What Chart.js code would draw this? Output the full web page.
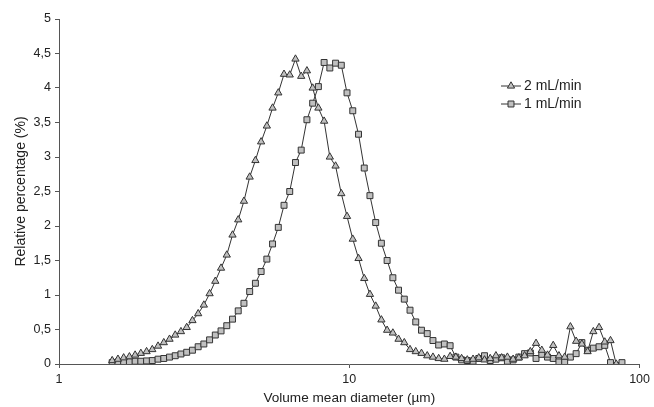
<!DOCTYPE html>
<html>
<head>
<meta charset="utf-8">
<script src="https://cdn.jsdelivr.net/npm/chart.js@4.4.1/dist/chart.umd.min.js"></script>
<style>
  body { margin: 0; background: #fff; }
  #wrap { width: 654px; height: 407px; }
</style>
</head>
<body>
<div id="wrap"><canvas id="sizeChart" width="654" height="407"></canvas></div>
<script>
// particle size bins (µm)
const diameters = [
    1.525, 1.596, 1.670, 1.748, 1.829, 1.914, 2.003, 2.096, 2.194, 2.296,
    2.403, 2.514, 2.631, 2.754, 2.882, 3.016, 3.155, 3.302, 3.455, 3.616,
    3.784, 3.960, 4.144, 4.336, 4.538, 4.749, 4.969, 5.200, 5.441, 5.694,
    5.959, 6.235, 6.526, 6.829, 7.146, 7.479, 7.826, 8.190, 8.570, 8.969,
    9.387, 9.822, 10.28, 10.76, 11.26, 11.78, 12.33, 12.90, 13.50, 14.13,
    14.78, 15.47, 16.19, 16.94, 17.73, 18.56, 19.42, 20.32, 21.26, 22.25,
    23.29, 24.37, 25.50, 26.69, 27.93, 29.23, 30.58, 32.00, 33.49, 35.05,
    36.68, 38.38, 40.17, 42.04, 43.99, 46.04, 48.18, 50.41, 52.75, 55.21,
    57.77, 60.46, 63.27, 66.21, 69.29, 72.51, 75.88, 79.40, 83.09, 86.97
];

// 2 mL/min (triangles)
const flow2 = [
    0.05, 0.07, 0.09, 0.105, 0.13, 0.155, 0.18, 0.21, 0.26, 0.31,
    0.36, 0.42, 0.47, 0.53, 0.63, 0.73, 0.855, 1.02, 1.20, 1.39,
    1.58, 1.87, 2.09, 2.36, 2.71, 2.95, 3.22, 3.45, 3.71, 3.93,
    4.20, 4.19, 4.42, 4.17, 4.25, 4.00, 3.71, 3.52, 3.00, 2.87,
    2.47, 2.14, 1.81, 1.53, 1.24, 1.01, 0.84, 0.64, 0.49, 0.45,
    0.36, 0.31, 0.21, 0.18, 0.155, 0.12, 0.10, 0.08, 0.07, 0.11,
    0.10, 0.08, 0.06, 0.07, 0.09, 0.06, 0.08, 0.12, 0.09, 0.10,
    0.07, 0.09, 0.12, 0.18, 0.30, 0.20, 0.13, 0.27, 0.12, 0.10,
    0.54, 0.33, 0.29, 0.18, 0.47, 0.53, 0.32, 0.34, 0.00
];

// 1 mL/min (squares)
const flow1 = [
    0.02, 0.03, 0.03, 0.035, 0.04, 0.04, 0.045, 0.05, 0.07, 0.08,
    0.10, 0.12, 0.145, 0.17, 0.20, 0.25, 0.29, 0.35, 0.42, 0.48,
    0.555, 0.65, 0.77, 0.88, 1.05, 1.17, 1.34, 1.52, 1.74, 1.98,
    2.30, 2.50, 2.92, 3.10, 3.54, 3.78, 4.02, 4.37, 4.29, 4.36,
    4.33, 3.93, 3.67, 3.33, 2.84, 2.44, 2.05, 1.75, 1.50, 1.25,
    1.07, 0.94, 0.78, 0.61, 0.49, 0.44, 0.34, 0.275, 0.29, 0.265,
    0.10, 0.06, 0.05, 0.04, 0.08, 0.12, 0.05, 0.07, 0.09, 0.04,
    0.06, 0.10, 0.15, 0.16, 0.08, 0.14, 0.10, 0.08, 0.03, 0.03,
    0.10, 0.15, 0.31, 0.20, 0.23, 0.25, 0.27, 0.02, null, 0.02
];

const seriesLabels = ['2 mL/min', '1 mL/min'];
const xTicks = [1, 10, 100];
const yTicks = [0, 0.5, 1, 1.5, 2, 2.5, 3, 3.5, 4, 4.5, 5];

const axisColor = '#555555';
const textColor = '#222222';
const fontFamily = '"Liberation Sans", Arial, sans-serif';

function toPoints(values)
{
    return values.map((v, i) => ({x: diameters[i], y: v}));
}

// legend drawn inside the plot, to the right of the peaks
const insideLegend = {
    id: 'insideLegend',
    afterDraw(chart)
    {
        const ctx = chart.ctx;
        ctx.save();
        chart.data.datasets.forEach((ds, k) =>
        {
            const y = 86 + k * 18;
            ctx.strokeStyle = ds.borderColor;
            ctx.lineWidth = 1;
            ctx.beginPath();
            ctx.moveTo(501, y);
            ctx.lineTo(521, y);
            ctx.stroke();
            ctx.fillStyle = ds.pointBackgroundColor;
            ctx.strokeStyle = ds.pointBorderColor;
            Chart.helpers.drawPoint(ctx, {
                pointStyle: ds.pointStyle,
                radius: ds.pointRadius,
                borderWidth: 1,
                rotation: 0
            }, 511, y);
            ctx.fillStyle = textColor;
            ctx.font = '14px ' + fontFamily;
            ctx.textBaseline = 'middle';
            ctx.textAlign = 'left';
            ctx.fillText(ds.label, 524, y);
        });
        ctx.restore();
    }
};

const ctx = document.getElementById('sizeChart').getContext('2d');
new Chart(ctx, {
    type: 'line',
    data: {
        datasets: [
            {
                label: seriesLabels[0],
                data: toPoints(flow2),
                borderColor: '#333333',
                borderWidth: 1,
                pointStyle: 'triangle',
                pointRadius: 4.2,
                pointBackgroundColor: '#c0c0c0',
                pointBorderColor: '#333333',
                pointBorderWidth: 1,
                tension: 0,
                spanGaps: true
            },
            {
                label: seriesLabels[1],
                data: toPoints(flow1),
                borderColor: '#333333',
                borderWidth: 1,
                pointStyle: 'rect',
                pointRadius: 4.2,
                pointBackgroundColor: '#c0c0c0',
                pointBorderColor: '#333333',
                pointBorderWidth: 1,
                tension: 0,
                spanGaps: true
            }
        ]
    },
    options: {
        responsive: false,
        animation: false,
        layout: {padding: {top: 19, right: 11, left: 0, bottom: 0}},
        plugins: {
            legend: {display: false},
            tooltip: {enabled: false}
        },
        scales: {
            x: {
                type: 'logarithmic',
                min: 1,
                max: 100,
                afterFit: scale => { scale.height = 43; },
                afterBuildTicks: scale => { scale.ticks = xTicks.map(v => ({value: v})); },
                grid: {drawOnChartArea: false, drawTicks: true, tickLength: 4, color: axisColor},
                border: {display: true, color: axisColor, width: 1},
                ticks: {
                    color: textColor,
                    font: {family: fontFamily, size: 12.5},
                    padding: 4,
                    maxRotation: 0,
                    callback: v => String(v)
                },
                title: {
                    display: true,
                    text: 'Volume mean diameter (µm)',
                    color: textColor,
                    font: {family: fontFamily, size: 13.6},
                    padding: {top: 0, bottom: 1}
                }
            },
            y: {
                min: 0,
                max: 5,
                afterFit: scale => { scale.width = 59; },
                afterBuildTicks: scale => { scale.ticks = yTicks.map(v => ({value: v})); },
                grid: {drawOnChartArea: false, drawTicks: true, tickLength: 4, color: axisColor},
                border: {display: true, color: axisColor, width: 1},
                ticks: {
                    color: textColor,
                    font: {family: fontFamily, size: 12.5},
                    padding: 4,
                    callback: v => String(v).replace('.', ',')
                },
                title: {
                    display: true,
                    text: 'Relative percentage (%)',
                    color: textColor,
                    font: {family: fontFamily, size: 14},
                    padding: {top: 13, bottom: 0}
                }
            }
        }
    },
    plugins: [insideLegend]
});
</script>
</body>
</html>
